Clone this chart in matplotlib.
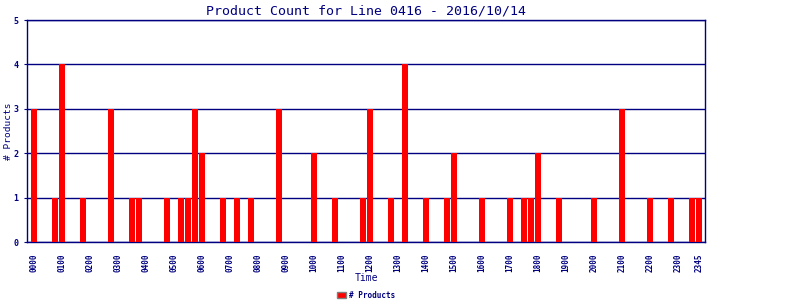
#!/usr/bin/env python3

import matplotlib
matplotlib.use('Agg')
import matplotlib.pyplot as plt

# one slot per 15 minutes, 96 slots for the day
slots = [f'{h:02d}{m:02d}' for h in range(24) for m in (0, 15, 30, 45)]

# slot index -> product count (all other slots are zero)
slot_index = [0, 3, 4, 7, 11, 14, 15, 19, 21, 22, 23, 24, 27, 29, 31, 35,
              40, 43, 47, 48, 51, 53, 56, 59, 60, 64, 68, 70, 71, 72, 75,
              80, 84, 88, 91, 94, 95]
slot_count = [3, 1, 4, 1, 3, 1, 1, 1, 1, 1, 3, 2, 1, 1, 1, 3,
              2, 1, 1, 3, 1, 4, 1, 1, 2, 1, 1, 1, 1, 2, 1,
              1, 3, 1, 1, 1, 1]

tick_labels = [f'{h:02d}00' for h in range(24)] + ['2345']

NAVY = '#000080'
RED = '#ff0000'


def main():
    counts = [0] * len(slots)
    for i, c in zip(slot_index, slot_count):
        counts[i] = c

    plt.rcParams['font.family'] = ['DejaVu Sans Mono']

    fig = plt.figure(figsize=(8, 3), dpi=100)
    ax = fig.add_axes([27 / 800, 58 / 300, 678 / 800, 222 / 300])

    ax.bar(range(len(slots)), counts, width=0.86, color=RED,
           label='# Products', zorder=3)

    ax.set_xlim(-1, 95.9)
    ax.set_ylim(0, 5)
    ax.set_yticks(range(6))
    ax.grid(axis='y', color=NAVY, linewidth=1, zorder=1)

    tick_pos = [slots.index(t) for t in tick_labels]
    ax.set_xticks(tick_pos)
    ax.set_xticklabels(tick_labels, rotation=90, fontsize=5.5,
                       fontweight='bold', color=NAVY)
    ax.tick_params(axis='x', length=0, pad=8)
    ax.tick_params(axis='y', length=2, color=NAVY, labelsize=6,
                   labelcolor=NAVY, pad=4)
    for lbl in ax.get_yticklabels():
        lbl.set_fontweight('bold')

    for s in ax.spines.values():
        s.set_color(NAVY)
        s.set_linewidth(1)

    ax.set_title('Product Count for Line 0416 - 2016/10/14', fontsize=9.5,
                 color=NAVY, pad=4)
    ax.set_ylabel('# Products', fontsize=6.8, color=NAVY, va='center')
    ax.yaxis.set_label_coords(-0.028, 0.5)
    ax.set_xlabel('Time', fontsize=7, color=NAVY)
    ax.xaxis.set_label_coords(0.5, -0.14)

    leg = ax.legend(loc='center', bbox_to_anchor=(0.5, -0.24),
                    frameon=False, prop={'size': 5.5, 'weight': 'bold'},
                    handlelength=1.2, handleheight=0.9, handletextpad=0.4,
                    borderaxespad=0, borderpad=0)
    for t in leg.get_texts():
        t.set_color(NAVY)
    for p in leg.get_patches():
        p.set_edgecolor('#808080')

    fig.savefig('out.png', dpi=100)


if __name__ == '__main__':
    main()
